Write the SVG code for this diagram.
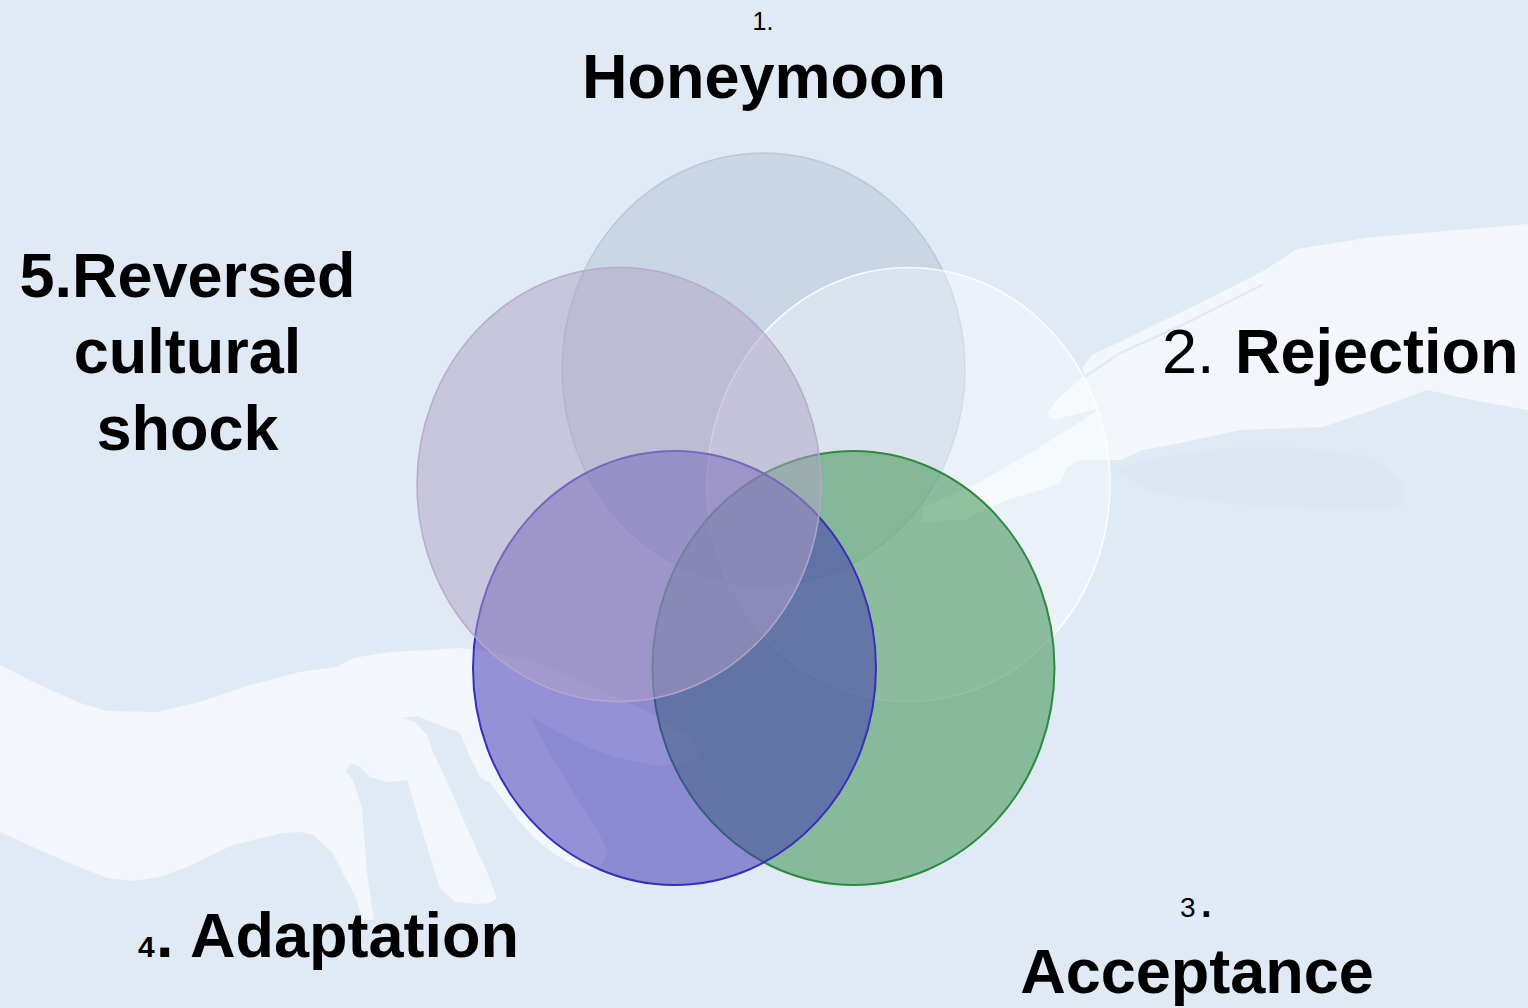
<svg xmlns="http://www.w3.org/2000/svg" width="1528" height="1008" viewBox="0 0 1528 1008">
<style>
.hand{fill:#f3f7fc}
.gap{fill:none;stroke:#e0eaf5;stroke-width:2.5;stroke-linecap:round}
.lbl{font-family:"Liberation Sans",Arial,sans-serif;fill:#000}
.b{font-weight:bold}
.c1{fill:#b0c2d5;fill-opacity:0.5;stroke:#b4c2d6;stroke-opacity:0.8;stroke-width:1.5}
.c2{fill:#ffffff;fill-opacity:0.35;stroke:#ffffff;stroke-opacity:0.85;stroke-width:1.5}
.c3{fill:#2e8841;fill-opacity:0.5;stroke:#2e8a40;stroke-width:2}
.c4{fill:#4033b2;fill-opacity:0.52;stroke:#3a2fb8;stroke-width:2}
.c5{fill:#b0a2c3;fill-opacity:0.5;stroke:#b8a6cc;stroke-opacity:0.9;stroke-width:1.5}
</style>
<rect width="1528" height="1008" fill="#e0eaf5"/>
<g id="background">
<path fill="#d9e4f0" fill-opacity="0.45" d="M1115,470 C1180,445 1300,440 1370,458 C1400,470 1412,495 1400,508 C1340,515 1220,505 1150,492 Z"/>
<path class="hand" d="M1528,224 L1470,229 L1373,237 L1297,249 L1265,270 L1200,303 L1130,337 L1092,355 L1082,368 L1085,375 L1070,388 L1056,401 L1047,413 L1053,420 L1100,408 L1075,425 L1040,447 L1013,463 L970,487 L947,497 L923,507 L922,522 L963,520 L1007,500 L1040,490 L1060,483 L1067,467 L1080,460 L1120,460 L1143,450 L1180,443 L1240,430 L1323,427 L1373,410 L1427,390 L1473,400 L1528,410 Z"/>
<path class="gap" d="M1262,285 L1180,326 L1120,353 L1086,376"/>
<path class="hand" d="M0,665 L33,682 L80,703 L107,711 L157,712 L200,702 L250,685 L300,672 L337,667 L353,658 L390,652 L430,650 L457,648 L480,650 L530,660 L590,685 L650,713 L690,738 L700,755 L685,763 L657,766 L620,758 L590,748 L560,733 L530,716 L545,745 L575,795 L598,832 L608,852 L602,864 L590,869 L577,867 L553,853 L533,837 L513,813 L490,783 L480,777 L467,750 L460,733 L417,716 L402,718 L415,722 L427,735 L433,752 L447,782 L467,828 L487,872 L497,898 L490,903 L477,904 L455,902 L440,888 L425,840 L407,780 L387,782 L370,777 L358,765 L350,764 L346,772 L353,780 L362,808 L367,873 L374,920 L362,920 L357,900 L343,873 L333,853 L313,835 L300,832 L283,833 L233,845 L187,867 L160,877 L133,881 L107,878 L67,862 L33,847 L0,832 Z"/>
</g>
<g id="connectors"/>
<g id="node1">
<ellipse class="c1" cx="763.5" cy="369.5" rx="201.5" ry="216.5"/>
<text class="lbl" x="763" y="30" font-size="25" text-anchor="middle">1.</text>
<text class="lbl b" x="764" y="98" font-size="63" text-anchor="middle">Honeymoon</text>
</g>
<g id="node2">
<ellipse class="c2" cx="908.5" cy="484.5" rx="201.5" ry="217"/>
<text class="lbl" y="373" font-size="63"><tspan x="1162">2.</tspan><tspan class="b" x="1235">Rejection</tspan></text>
</g>
<g id="node3">
<ellipse class="c3" cx="853.5" cy="668" rx="201" ry="217"/>
<text class="lbl" y="917"><tspan x="1180" font-size="28">3</tspan><tspan class="b" x="1201" font-size="38">.</tspan></text>
<text class="lbl b" x="1197" y="993" font-size="63" text-anchor="middle">Acceptance</text>
</g>
<g id="node4">
<ellipse class="c4" cx="674.5" cy="668" rx="201.5" ry="217"/>
<text class="lbl b" y="957"><tspan x="138" font-size="30">4</tspan><tspan x="156" font-size="63">.</tspan><tspan x="190" font-size="63">Adaptation</tspan></text>
</g>
<g id="node5">
<ellipse class="c5" cx="619" cy="484.5" rx="202" ry="217"/>
<text class="lbl b" font-size="63" text-anchor="middle"><tspan x="187.5" y="297">5.Reversed</tspan><tspan x="187.5" y="373">cultural</tspan><tspan x="187.5" y="450">shock</tspan></text>
</g>
</svg>
